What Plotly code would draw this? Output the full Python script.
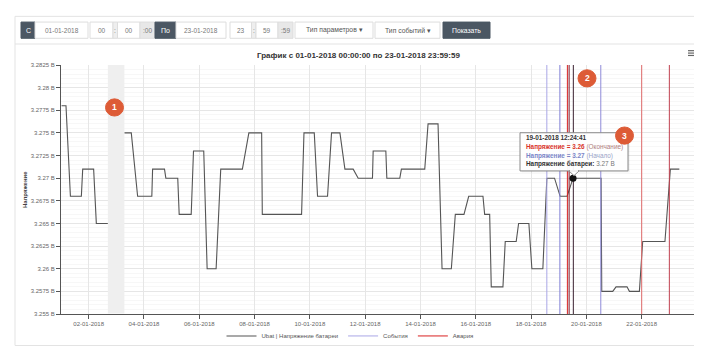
import plotly.graph_objects as go

# ---------------- data ----------------
ubat_times = [
    "2018-01-01 00:30", "2018-01-01 04:20", "2018-01-01 08:10", "2018-01-01 17:40",
    "2018-01-01 18:50", "2018-01-02 04:20", "2018-01-02 06:40", "2018-01-02 16:44",
    None,
    "2018-01-03 06:56", "2018-01-03 13:00", "2018-01-03 18:30", "2018-01-04 06:50",
    "2018-01-04 07:30", "2018-01-04 17:50", "2018-01-04 19:00", "2018-01-05 05:20",
    "2018-01-05 06:35", "2018-01-05 17:00", "2018-01-05 19:00", "2018-01-06 03:53",
    "2018-01-06 06:50", "2018-01-06 14:38", "2018-01-06 18:38", "2018-01-07 13:26",
    "2018-01-07 19:03", "2018-01-08 06:09", "2018-01-08 06:43", "2018-01-09 16:48",
    "2018-01-09 18:53", "2018-01-10 03:49", "2018-01-10 06:40", "2018-01-10 15:20",
    "2018-01-10 18:48", "2018-01-11 02:05", "2018-01-11 06:25", "2018-01-11 13:36",
    "2018-01-11 17:56", "2018-01-12 06:20", "2018-01-12 06:56", "2018-01-12 17:56",
    "2018-01-12 18:48", "2018-01-13 06:04", "2018-01-13 07:26", "2018-01-14 03:43",
    "2018-01-14 06:35", "2018-01-14 15:14", "2018-01-14 18:43", "2018-01-15 02:47",
    "2018-01-15 06:14", "2018-01-15 13:46", "2018-01-15 17:51", "2018-01-16 06:14",
    "2018-01-16 07:42", "2018-01-16 12:03", "2018-01-16 13:26", "2018-01-16 23:34",
    "2018-01-17 01:34", "2018-01-17 11:05", "2018-01-17 13:10", "2018-01-17 22:05",
    "2018-01-18 00:41", "2018-01-18 10:13", "2018-01-18 13:41", "2018-01-18 20:21",
    "2018-01-19 01:12", "2018-01-19 07:16", "2018-01-19 12:24:41", "2018-01-20 12:45",
    "2018-01-20 13:20", "2018-01-20 22:52", "2018-01-21 01:44", "2018-01-21 11:15",
    "2018-01-21 13:20", "2018-01-21 22:00", "2018-01-22 00:52", "2018-01-22 20:11",
    "2018-01-23 00:52", "2018-01-23 08:40",
]
ubat_values = [
    3.278, 3.278, 3.268, 3.268,
    3.271, 3.271, 3.265, 3.265,
    None,
    3.275, 3.275, 3.268, 3.268,
    3.271, 3.271, 3.270, 3.270,
    3.266, 3.266, 3.273, 3.273,
    3.260, 3.260, 3.271, 3.271,
    3.275, 3.275, 3.266, 3.266,
    3.275, 3.275, 3.268, 3.268,
    3.275, 3.275, 3.271, 3.271,
    3.270, 3.270, 3.273, 3.273,
    3.270, 3.270, 3.271, 3.271,
    3.276, 3.276, 3.260, 3.260,
    3.266, 3.266, 3.268, 3.268,
    3.266, 3.266, 3.258, 3.258,
    3.263, 3.263, 3.265, 3.265,
    3.260, 3.260, 3.270, 3.270,
    3.268, 3.268, 3.270, 3.270,
    3.2575, 3.2575, 3.258, 3.258,
    3.2575, 3.2575, 3.263, 3.263,
    3.271, 3.271,
]

event_times = ["2018-01-18 13:40", "2018-01-19 01:00", "2018-01-20 12:30"]
alarm_times = ["2018-01-19 07:30", "2018-01-19 09:00", "2018-01-19 12:40",
               "2018-01-22 00:00", "2018-01-23 00:00"]

gap_band = ["2018-01-02 16:40", "2018-01-03 07:00"]

hover_time = "2018-01-19 12:24:41"
hover_value = 3.27

y_range = [3.255, 3.2825]
y_tickvals = [3.255, 3.2575, 3.26, 3.2625, 3.265, 3.2675, 3.27, 3.2725,
              3.275, 3.2775, 3.28, 3.2825]
y_ticktext = ["3.255 В", "3.2575 В", "3.26 В", "3.2625 В", "3.265 В", "3.2675 В",
              "3.27 В", "3.2725 В", "3.275 В", "3.2775 В", "3.28 В", "3.2825 В"]
x_range = ["2018-01-01 00:00", "2018-01-24 00:00"]

title_text = "График с 01-01-2018 00:00:00 по 23-01-2018 23:59:59"
tooltip_lines = [
    ("<b>19-01-2018 12:24:41</b>", "#333333"),
    ("<b>Напряжение = 3.26</b> <span style='color:#b08080'>(Окончание)</span>", "#d9342b"),
    ("<b>Напряжение = 3.27</b> <span style='color:#9aa3c8'>(Начало)</span>", "#7b86c8"),
    ("<b>Напряжение батареи:</b> <span style='color:#777777'>3.27 В</span>", "#333333"),
]

# ---------------- styles ----------------
W, H = 702, 354
L, R, T, B = 53, 13, 57, 36
FONT = "Liberation Sans, Arial, sans-serif"
event_colors = ["#a9a6e6", "#7f7fd6", "#8e8ad8"]
alarm_colors = ["#d92020", "#7a1a2a", "#3a2030", "#e06a6a", "#c04050"]


def PX(x):
    return (x - L) / (W - L - R)


def PY(y):
    return (H - B - y) / (H - T - B)


fig = go.Figure()

fig.add_trace(go.Scatter(
    x=ubat_times, y=ubat_values, mode="lines", connectgaps=False,
    name="Ubat | Напряжение батареи",
    line=dict(color="#555555", width=1.1),
))

for i, t in enumerate(event_times):
    fig.add_trace(go.Scatter(
        x=[t, t], y=y_range, mode="lines", name="События",
        legendgroup="events", showlegend=(i == 0),
        line=dict(color=event_colors[i], width=1),
    ))
for i, t in enumerate(alarm_times):
    fig.add_trace(go.Scatter(
        x=[t, t], y=y_range, mode="lines", name="Авария",
        legendgroup="alarms", showlegend=(i == 0),
        line=dict(color=alarm_colors[i], width=1),
    ))

fig.add_trace(go.Scatter(
    x=[hover_time], y=[hover_value], mode="markers", showlegend=False,
    marker=dict(color="#111111", size=7),
))

shapes = []
annotations = []

# gap plot band (covers the grid, as in the reference)
shapes.append(dict(type="rect", xref="x", yref="paper", x0=gap_band[0], x1=gap_band[1],
                   y0=PY(317.5), y1=1, fillcolor="#efefef", line=dict(width=0), layer="above"))

# page container
shapes.append(dict(type="rect", xref="paper", yref="paper",
                   x0=PX(7), x1=PX(695), y0=PY(351), y1=PY(6),
                   line=dict(color="#e3e3e3", width=1), layer="below"))
shapes.append(dict(type="line", xref="paper", yref="paper",
                   x0=PX(7), x1=PX(695), y0=PY(35), y1=PY(35),
                   line=dict(color="#e3e3e3", width=1), layer="below"))

# toolbar
def box(x0, x1, fill, border, y0=12, y1=29):
    shapes.append(dict(type="rect", xref="paper", yref="paper",
                       x0=PX(x0), x1=PX(x1), y0=PY(y1), y1=PY(y0),
                       fillcolor=fill, line=dict(color=border, width=1)))


def label(x, y, text, color="#777777", size=6.5, anchor="center"):
    annotations.append(dict(xref="paper", yref="paper", x=PX(x), y=PY(y), text=text,
                            showarrow=False, xanchor=anchor, yanchor="middle",
                            font=dict(family=FONT, size=size, color=color)))

DARK = "#4b5763"
box(13, 27, DARK, DARK); label(20, 20.5, "С", "#ffffff", 7)
box(27, 80, "#ffffff", "#dddddd"); label(53.5, 20.5, "01-01-2018")
box(82, 105, "#ffffff", "#dddddd"); label(93.5, 20.5, "00")
box(105, 109.5, "#eeeeee", "#dddddd"); label(107.2, 20.5, ":")
box(109.5, 132, "#ffffff", "#dddddd"); label(120.7, 20.5, "00")
box(132, 147, "#e8e8e8", "#dddddd"); label(139.5, 20.5, ":00")
box(147, 168, DARK, DARK); label(157.5, 20.5, "По", "#ffffff", 7)
box(168, 218, "#ffffff", "#dddddd"); label(193, 20.5, "23-01-2018")
box(222, 243.5, "#ffffff", "#dddddd"); label(232.7, 20.5, "23")
box(243.5, 248, "#eeeeee", "#dddddd"); label(245.7, 20.5, ":")
box(248, 270, "#ffffff", "#dddddd"); label(259, 20.5, "59")
box(270, 285, "#e8e8e8", "#dddddd"); label(277.5, 20.5, ":59")
box(287, 365, "#ffffff", "#dddddd"); label(326, 20.5, "Тип параметров ▾", "#555555", 6.8)
box(367, 432, "#ffffff", "#dddddd"); label(399.5, 20.5, "Тип событий ▾", "#555555", 6.8)
box(435, 482, DARK, DARK); label(458.5, 20.5, "Показать", "#ffffff", 6.8)

# title and menu icon
label(350, 47, "<b>" + title_text + "</b>", "#333333", 8)
for yy in (42, 44.5, 47):
    shapes.append(dict(type="line", xref="paper", yref="paper",
                       x0=PX(680), x1=PX(688), y0=PY(yy), y1=PY(yy),
                       line=dict(color="#666666", width=1.2)))

# y axis title
annotations.append(dict(xref="paper", yref="paper", x=PX(17), y=PY(188), text="<b>Напряжение</b>",
                        showarrow=False, textangle=-90, xanchor="center", yanchor="middle",
                        font=dict(family=FONT, size=6, color="#444444")))

# tooltip
shapes.append(dict(type="rect", xref="paper", yref="paper",
                   x0=PX(513.5), x1=PX(621.5), y0=PY(169.5), y1=PY(129.5),
                   fillcolor="rgba(0,0,0,0.08)", line=dict(width=0)))
shapes.append(dict(type="rect", xref="paper", yref="paper",
                   x0=PX(512), x1=PX(620), y0=PY(168), y1=PY(128),
                   fillcolor="rgba(255,255,255,0.95)", line=dict(color="#8a8a8a", width=1)))
shapes.append(dict(type="path", xref="paper", yref="paper",
                   path=f"M {PX(561)},{PY(168)} L {PX(566)},{PY(173)} L {PX(571)},{PY(168)} Z",
                   fillcolor="#ffffff", line=dict(color="#8a8a8a", width=1)))
shapes.append(dict(type="line", xref="paper", yref="paper",
                   x0=PX(562), x1=PX(570), y0=PY(168), y1=PY(168),
                   line=dict(color="#ffffff", width=1.5)))
for (txt, col), yy in zip(tooltip_lines, (133.5, 143, 152, 161)):
    label(516, yy, txt, col, 6.4, "left")

# numbered badges
for num, cx, cy in (("1", 106.5, 101.5), ("2", 579, 71), ("3", 616.5, 131)):
    shapes.append(dict(type="circle", xref="paper", yref="paper",
                       x0=PX(cx - 9), x1=PX(cx + 9), y0=PY(cy + 9), y1=PY(cy - 9),
                       fillcolor="#dd5b36", line=dict(color="#dd5b36", width=1)))
    label(cx, cy, "<b>" + num + "</b>", "#ffffff", 8.5)

fig.update_layout(
    width=W, height=H,
    margin=dict(l=L, r=R, t=T, b=B, pad=0),
    paper_bgcolor="#ffffff", plot_bgcolor="#ffffff",
    font=dict(family=FONT, size=6, color="#666666"),
    showlegend=True,
    legend=dict(orientation="h", x=PX(342), xanchor="center", y=PY(341), yanchor="middle",
                font=dict(family=FONT, size=6, color="#555555"),
                itemwidth=30, tracegroupgap=0, bgcolor="rgba(0,0,0,0)"),
    shapes=shapes, annotations=annotations,
    hovermode=False,
)
fig.update_xaxes(
    type="date", range=x_range, tick0="2018-01-02", dtick=2 * 86400000,
    tickformat="%d-%m-%Y", showgrid=True, gridcolor="#e6e6e6", gridwidth=1,
    showline=True, linecolor="#555555", linewidth=1,
    ticks="outside", ticklen=4, tickcolor="#555555",
    tickfont=dict(family=FONT, size=6, color="#666666"), zeroline=False,
)
fig.update_yaxes(
    range=y_range, tickmode="array", tickvals=y_tickvals, ticktext=y_ticktext,
    showgrid=True, gridcolor="#e6e6e6", gridwidth=1,
    minor=dict(tickmode="linear", tick0=3.255, dtick=0.0005, showgrid=True,
               gridcolor="#f7f7f7", ticks=""),
    showline=True, linecolor="#555555", linewidth=1,
    ticks="outside", ticklen=4, tickcolor="#555555",
    tickfont=dict(family=FONT, size=6, color="#666666"), zeroline=False,
)

fig.write_html("out.html")
